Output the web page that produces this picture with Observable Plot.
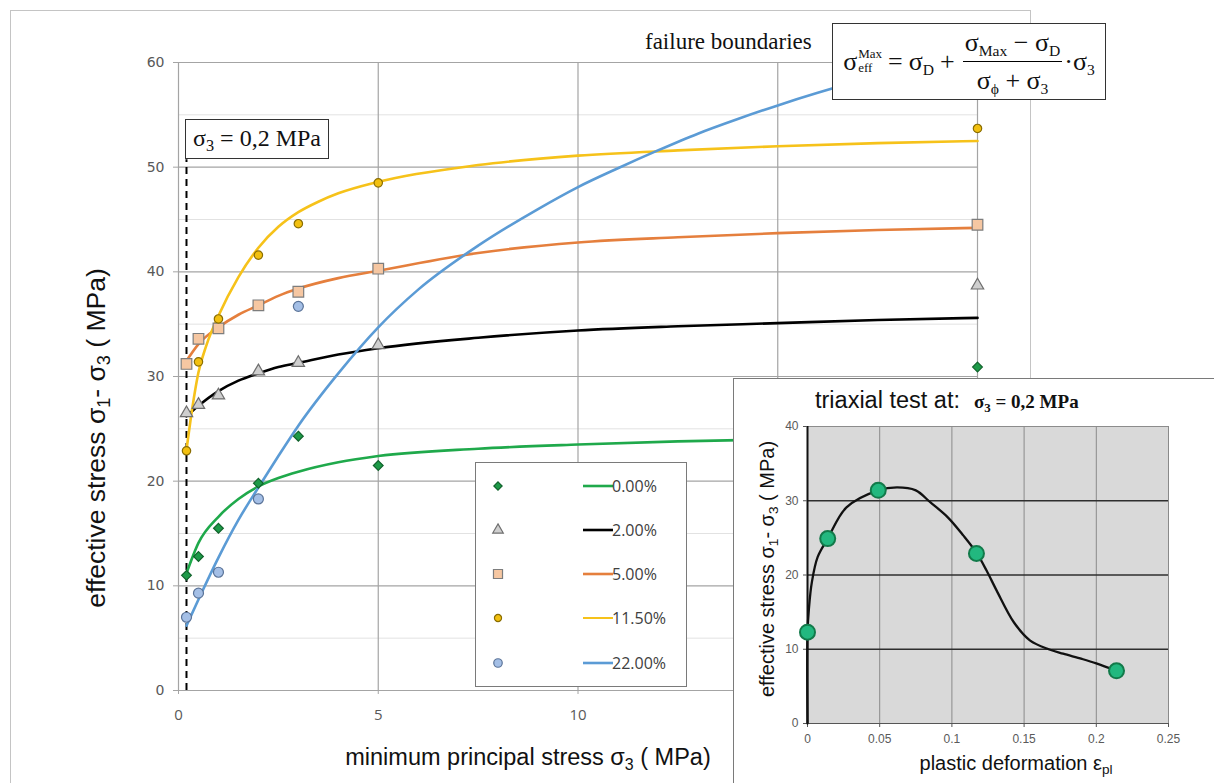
<!DOCTYPE html>
<html><head><meta charset="utf-8">
<script src="https://cdn.jsdelivr.net/npm/d3@7"></script>
<script src="https://cdn.jsdelivr.net/npm/@observablehq/plot@0.6"></script>
<style>
html,body{margin:0;padding:0;background:#fff}
body{position:relative;width:1214px;height:783px;overflow:hidden;font-family:"Liberation Sans",Arial,sans-serif;color:#111}
.abs{position:absolute}
.serif{font-family:"Liberation Serif","Times New Roman",serif}
#frame{left:10px;top:10px;width:1021px;height:820px;border:1.5px solid #c4c4c4;box-sizing:border-box}
#main,#insetPlot{position:absolute}
#main{left:0;top:0}
sub{font-size:68%;line-height:0;vertical-align:-0.32em}
#ylab{left:96px;top:438px;transform:translate(-50%,-50%) rotate(-90deg);white-space:nowrap;font-size:26.5px}
#xlab{left:528px;top:757px;transform:translate(-50%,-50%);white-space:nowrap;font-size:23.5px}
#fb{left:645px;top:29px;font-size:23px;white-space:nowrap}
#formula{left:832px;top:23px;width:274px;height:77px;border:1.5px solid #333;background:#fff;box-sizing:border-box;display:flex;align-items:center;justify-content:center;font-size:26px;white-space:nowrap}
#formula sub{font-size:60%}
#formula .ss{display:inline-flex;flex-direction:column;font-size:13px;line-height:14px;margin-left:1px;position:relative;top:-1px}
#formula .eq{margin:0 6px}
#formula .frac{display:inline-flex;flex-direction:column;align-items:center;margin:0 2px}
#formula .num{border-bottom:1.5px solid #000;padding:0 2px 3px}
#formula .den{padding-top:4px}
#s3box{left:185px;top:119px;width:144px;height:40px;border:1.5px solid #333;background:#fff;box-sizing:border-box;font-size:24px;text-align:center;line-height:36px;white-space:nowrap}
#legend{left:475px;top:462px;width:212px;height:225px;border:1.5px solid #7a7a7a;background:#fff;box-sizing:border-box}
.lrow{position:absolute;left:0;height:20px;width:210px}
.lrow svg{position:absolute;left:0;top:0}
.lrow span{position:absolute;left:136px;top:-1px;font-family:"Open Sans",sans-serif;font-size:16px;color:#404040;line-height:22px}
#inset{left:733px;top:378px;width:500px;height:420px;border-left:1.5px solid #7a7a7a;border-top:1.5px solid #7a7a7a;background:#fff;box-sizing:border-box}
#ititle{left:815px;top:387px;font-size:23.5px;white-space:nowrap;display:flex;align-items:baseline}
#ititle .serif{font-size:19px;font-weight:bold;margin-left:14px}
#iylab{left:767px;top:569px;transform:translate(-50%,-50%) rotate(-90deg);white-space:nowrap;font-size:20px}
#ixlab{left:1016px;top:763px;transform:translate(-50%,-50%);white-space:nowrap;font-size:20px}
</style>
</head>
<body>
<div id="frame" class="abs"></div>
<div id="mainHolder"></div>
<div id="ylab" class="abs">effective stress σ<sub>1</sub>- σ<sub>3</sub> ( MPa)</div>
<div id="xlab" class="abs">minimum principal stress σ<sub>3</sub> ( MPa)</div>
<div id="fb" class="abs serif">failure boundaries</div>
<div id="formula" class="abs serif"><span>σ</span><span class="ss"><span>Max</span><span>eff</span></span><span class="eq">=</span><span>σ<sub>D</sub></span><span class="eq">+</span><span class="frac"><span class="num">σ<sub>Max</sub> − σ<sub>D</sub></span><span class="den">σ<sub>ϕ</sub> + σ<sub>3</sub></span></span><span>·σ<sub>3</sub></span></div>
<div id="s3box" class="abs serif"><span>σ<sub>3</sub> = 0,2&nbsp;MPa</span></div>
<div id="legend" class="abs"></div>
<div id="inset" class="abs"></div>
<div id="insetHolder"></div>
<div id="ititle" class="abs"><span>triaxial test at:</span><span class="serif">σ<sub>3</sub> = 0,2 MPa</span></div>
<div id="iylab" class="abs">effective stress σ<sub>1</sub>- σ<sub>3</sub> ( MPa)</div>
<div id="ixlab" class="abs">plastic deformation ε<sub>pl</sub></div>
<script>
// ---------- data: main chart ----------
const series = ["0.00%", "2.00%", "5.00%", "11.50%", "22.00%"];
const sigma3Tested = [0.2, 0.5, 1, 2, 3, 5, 20];
const measured000 = [11.0, 12.8, 15.5, 19.8, 24.3, 21.5, 30.9];
const measured020 = [26.5, 27.3, 28.2, 30.5, 31.3, 33.0, 38.7];
const measured050 = [31.2, 33.6, 34.6, 36.8, 38.1, 40.3, 44.5];
const measured115 = [22.9, 31.4, 35.5, 41.6, 44.6, 48.5, 53.7];
const sigma3Tested22 = [0.2, 0.5, 1, 2, 3];
const measured220 = [7.0, 9.3, 11.3, 18.3, 36.7];

const curveX = [0.2, 0.5, 1, 1.5, 2, 2.5, 3, 4, 5, 7.5, 10, 12.5, 15, 17.5, 20];
const fit000 = [11.2, 14.1, 16.6, 18.3, 19.5, 20.3, 20.9, 21.8, 22.4, 23.1, 23.5, 23.8, 24.0, 24.1, 24.2];
const fit020 = [26.2, 27.2, 28.6, 29.6, 30.3, 30.9, 31.3, 32.1, 32.7, 33.7, 34.4, 34.8, 35.1, 35.4, 35.6];
const fit050 = [31.5, 33.1, 34.7, 35.9, 36.8, 37.7, 38.4, 39.4, 40.1, 41.8, 42.8, 43.3, 43.7, 44.0, 44.2];
const curveX115 = [0.2, 0.3, 0.4, 0.5, 0.7, 1, 1.5, 2, 2.5, 3, 3.5, 4, 5, 7.5, 10, 12.5, 15, 17.5, 20];
const fit115 = [23.0, 25.8, 28.3, 30.4, 33.0, 35.8, 39.5, 42.3, 44.3, 45.7, 46.7, 47.5, 48.6, 50.2, 51.1, 51.6, 52.0, 52.3, 52.5];
const curveX22 = [0.2, 0.5, 1, 1.5, 2, 2.5, 3, 4, 5, 6, 7.5, 9, 10, 11, 12, 13, 14, 15, 16, 17, 18];
const fit220 = [6.2, 8.7, 12.7, 16.3, 19.4, 22.4, 25.3, 30.3, 34.7, 38.3, 42.5, 46.0, 48.1, 49.9, 51.6, 53.2, 54.6, 55.9, 57.1, 58.2, 59.2];

const yMajorTicks = [0, 10, 20, 30, 40, 50, 60];
const yMinorGrid = [5, 15, 25, 35, 45, 55];
const xTicks = [0, 5, 10, 15, 20];
const sigma3Line = [0.2];

// ---------- data: inset ----------
const epsTested = [0, 0.014, 0.049, 0.117, 0.214];
const stressTested = [12.3, 24.9, 31.4, 22.9, 7.1];
const epsCurve = [0, 0, 0.001, 0.003, 0.007, 0.014, 0.027, 0.049, 0.062, 0.075, 0.085, 0.097, 0.108, 0.117, 0.124, 0.131, 0.143, 0.154, 0.167, 0.177, 0.19, 0.2, 0.214];
const stressCurve = [0, 12.3, 15.5, 19.0, 22.4, 24.9, 29.1, 31.4, 31.8, 31.4, 29.8, 27.8, 25.3, 23.0, 20.6, 17.9, 13.6, 11.2, 10.0, 9.4, 8.7, 8.1, 7.1];
const insetXTicks = [0, 0.05, 0.1, 0.15, 0.2, 0.25];
const insetYTicks = [0, 10, 20, 30, 40];

// ---------- build tables ----------
const fits = [fit000, fit020, fit050, fit115, fit220];
const fitXs = [curveX, curveX, curveX, curveX115, curveX22];
const curveRows = series.flatMap((s, i) => fitXs[i].map((x, j) => ({series: s, s3: x, q: fits[i][j]})));
const measuredYs = [measured000, measured020, measured050, measured115, measured220];
const measuredXs = [sigma3Tested, sigma3Tested, sigma3Tested, sigma3Tested, sigma3Tested22];
const pointRows = series.map((s, i) => measuredXs[i].map((x, j) => ({series: s, s3: x, q: measuredYs[i][j]})));

const lineColors = ["#1fa94b", "#000000", "#e57f3d", "#f6c21a", "#5b9bd5"];
const markStyle = [
  {symbol: "diamond2", r: 4.4, fill: "#1d9a48", stroke: "#11632c"},
  {symbol: "triangle", r: 4.6, fill: "#cfcfcf", stroke: "#6e6e6e"},
  {symbol: "square", r: 6.0, fill: "#f6c7a2", stroke: "#7d7d7d"},
  {symbol: "circle", r: 4.2, fill: "#f2c010", stroke: "#8a6d00"},
  {symbol: "circle", r: 5.0, fill: "#a4bfe6", stroke: "#5a7398"}
];

const mainPlot = Plot.plot({
  width: 1214, height: 783,
  marginLeft: 178, marginRight: 237, marginTop: 62, marginBottom: 93,
  x: {domain: [0, 20]},
  y: {domain: [0, 60]},
  color: {domain: series, range: lineColors},
  style: {background: "transparent", color: "#595959", fontFamily: "DejaVu Sans, sans-serif", fontSize: "14px", overflow: "visible"},
  marks: [
    Plot.ruleY(yMinorGrid, {stroke: "#e2e2e2", strokeWidth: 1}),
    Plot.ruleY(yMajorTicks, {stroke: "#a4a4a4", strokeWidth: 1.2}),
    Plot.ruleX(xTicks, {stroke: "#a4a4a4", strokeWidth: 1.2}),
    Plot.axisY(yMajorTicks, {tickSize: 5, tickPadding: 9, label: null, stroke: "#a4a4a4", fontSize: 14}),
    Plot.axisX(xTicks, {tickSize: 4, tickPadding: 15, label: null, stroke: "#a4a4a4", fontSize: 15, fontFamily: "Open Sans, sans-serif"}),
    Plot.ruleX(sigma3Line, {y1: 0, y2: 50.7, stroke: "#000", strokeWidth: 2, strokeDasharray: "7,5"}),
    Plot.line(curveRows, {x: "s3", y: "q", z: "series", stroke: "series", strokeWidth: 2.6, curve: "monotone-x"}),
    ...pointRows.map((rows, i) => Plot.dot(rows, {x: "s3", y: "q", symbol: () => markStyle[i].symbol, r: markStyle[i].r, fill: markStyle[i].fill, stroke: markStyle[i].stroke, strokeWidth: 1.2}))
  ]
});
mainPlot.id = "main";
document.getElementById("mainHolder").appendChild(mainPlot);

// ---------- legend ----------
const symbolMap = {diamond2: d3.symbolDiamond2, triangle: d3.symbolTriangle, square: d3.symbolSquare, circle: d3.symbolCircle};
const legend = d3.select("#legend");
series.forEach((s, i) => {
  const row = legend.append("div").attr("class", "lrow").style("top", (12.5 + i * 44.25) + "px");
  const svg = row.append("svg").attr("width", 140).attr("height", 20);
  const st = markStyle[i];
  const rr = st.r * 0.85;
  svg.append("path")
    .attr("transform", "translate(22,10)")
    .attr("d", d3.symbol(symbolMap[st.symbol], Math.PI * rr * rr)())
    .attr("fill", st.fill).attr("stroke", st.stroke).attr("stroke-width", 1.2);
  svg.append("line").attr("x1", 107).attr("x2", 137).attr("y1", 10).attr("y2", 10)
    .attr("stroke", lineColors[i]).attr("stroke-width", i === 3 ? 2 : 2.6);
  row.append("span").text(s);
});

// ---------- inset ----------
const insetCurve = epsCurve.map((e, i) => ({eps: e, q: stressCurve[i]}));
const insetPts = epsTested.map((e, i) => ({eps: e, q: stressTested[i]}));
const insetPlot = Plot.plot({
  width: 481, height: 405,
  marginLeft: 74, marginRight: 46, marginTop: 48, marginBottom: 60,
  x: {domain: [0, 0.25]},
  y: {domain: [0, 40]},
  style: {background: "transparent", color: "#5a5a5a", fontFamily: "Liberation Sans, Arial, sans-serif", fontSize: "12px", overflow: "visible"},
  marks: [
    Plot.frame({fill: "#d9d9d9", stroke: "#8c8c8c"}),
    Plot.ruleX(insetXTicks.slice(1), {stroke: "#8a8a8a", strokeWidth: 1}),
    Plot.ruleY(insetYTicks.slice(1, 4), {stroke: "#2e2e2e", strokeWidth: 1.5}),
    Plot.ruleY([0], {stroke: "#555", strokeWidth: 1.2}),
    Plot.ruleX([0], {stroke: "#111", strokeWidth: 2}),
    Plot.axisY(insetYTicks, {tickSize: 4, tickPadding: 5, label: null, stroke: "#555"}),
    Plot.axisX(insetXTicks, {tickSize: 4, tickPadding: 7, label: null, stroke: "#555", tickFormat: d => String(d)}),
    Plot.line(insetCurve, {x: "eps", y: "q", stroke: "#111", strokeWidth: 2.3, curve: "catmull-rom"}),
    Plot.dot(insetPts, {x: "eps", y: "q", r: 7.5, fill: "#22b87f", stroke: "#127a4a", strokeWidth: 2})
  ]
});
insetPlot.id = "insetPlot";
insetPlot.style.left = "733px";
insetPlot.style.top = "378px";
document.getElementById("insetHolder").appendChild(insetPlot);
</script>
</body></html>
